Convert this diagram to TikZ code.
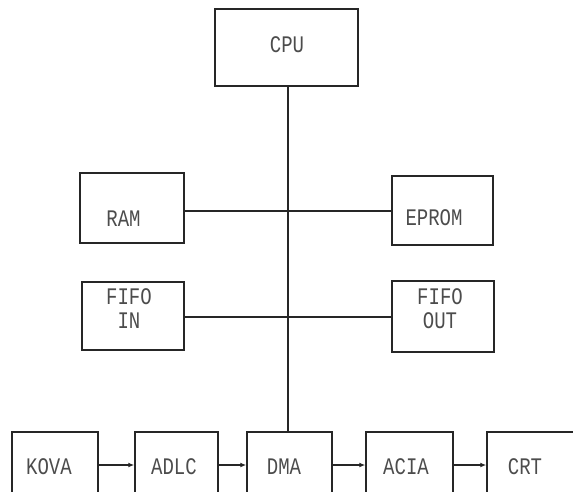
\documentclass[tikz,border=0pt]{standalone}
\usepackage{fontspec}
\usepackage{graphicx}
\setmonofont{Liberation Mono}
\usetikzlibrary{arrows.meta}
\newcommand{\tall}[1]{\scalebox{1}[1.25]{#1}}
\begin{document}
\begin{tikzpicture}[x=1pt,y=-1pt,
  box/.style={draw=black!85, line width=1.5pt, inner sep=0pt},
  lbl/.style={text=black!70, font=\ttfamily\fontsize{19}{24}\selectfont, inner sep=0pt, align=center},
  bus/.style={draw=black!85, line width=1.1pt},
  flow/.style={draw=black!85, line width=1.4pt, -{Latex[length=6pt,width=5pt]}},
  jdot/.style={circle, fill=black!85, inner sep=0pt, minimum size=2.5pt}]
\useasboundingbox (0,0) rectangle (573,492);
\clip (0,0) rectangle (573,492);
% boxes
\node[box, minimum width=143pt, minimum height=77pt] (cpu) at (286.5,47.5) {};
\node[box, minimum width=104pt, minimum height=70pt] (ram) at (132,208) {};
\node[box, minimum width=101pt, minimum height=69pt] (eprom) at (442.5,210.5) {};
\node[box, minimum width=102pt, minimum height=68pt] (fifoin) at (133,316) {};
\node[box, minimum width=102pt, minimum height=71pt] (fifoout) at (443,316.5) {};
\node[box, minimum width=86pt, minimum height=66pt] (kova) at (55,465) {};
\node[box, minimum width=83pt, minimum height=66pt] (adlc) at (176.5,465) {};
\node[box, minimum width=85pt, minimum height=66pt] (dma) at (289.5,465) {};
\node[box, minimum width=87pt, minimum height=66pt] (acia) at (409.5,465) {};
\node[box, minimum width=120pt, minimum height=66pt] (crt) at (547,465) {};
% labels
\node[lbl] (tcpu) at (287,45) {\tall{CPU}};
\node[lbl] (tram) at (123.5,219) {\tall{RAM}};
\node[lbl] (teprom) at (434,218) {\tall{EPROM}};
\node[lbl] (tfifoin) at (129,308.5) {\tall{FIFO}\\\tall{IN}};
\node[lbl] (tfifoout) at (440,308.5) {\tall{FIFO}\\\tall{OUT}};
\node[lbl] (tkova) at (49,467) {\tall{KOVA}};
\node[lbl] (tadlc) at (174,467) {\tall{ADLC}};
\node[lbl] (tdma) at (284,467) {\tall{DMA}};
\node[lbl] (tacia) at (406,467) {\tall{ACIA}};
\node[lbl] (tcrt) at (525,467) {\tall{CRT}};
% bus
\coordinate (bx) at (288,0);
\coordinate (j1) at (288,211);
\coordinate (j2) at (288,317);
\draw[bus] (cpu.south -| bx) -- (dma.north -| bx);
\draw[bus] (ram.east |- j1) -- (eprom.west |- j1);
\draw[bus] (fifoin.east |- j2) -- (fifoout.west |- j2);
\node[jdot] (d1) at (j1) {};
\node[jdot] (d2) at (j2) {};
% flow arrows
\draw[flow] (kova.east) -- (adlc.west);
\draw[flow] (adlc.east) -- (dma.west);
\draw[flow] (dma.east) -- (acia.west);
\draw[flow] (acia.east) -- (crt.west);
\end{tikzpicture}
\end{document}
